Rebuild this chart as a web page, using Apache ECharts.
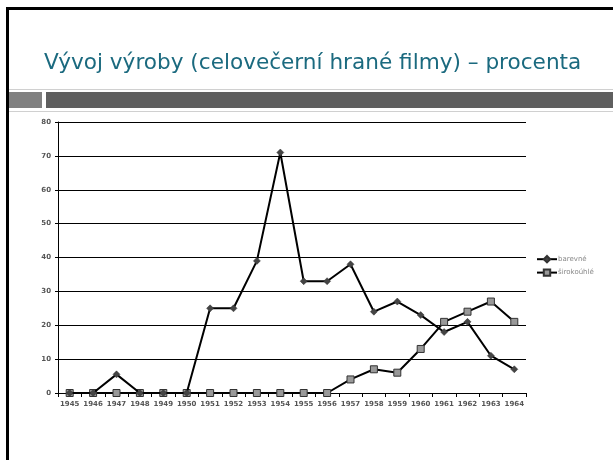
<!DOCTYPE html>
<html><head><meta charset="utf-8">
<script src="https://cdn.jsdelivr.net/npm/echarts@6/dist/echarts.min.js"></script>
<style>html,body{margin:0;padding:0;background:#fff}#c{width:613px;height:460px}</style>
</head><body><div id="c"></div>
<script>
var years = ['1945','1946','1947','1948','1949','1950','1951','1952','1953','1954','1955','1956','1957','1958','1959','1960','1961','1962','1963','1964'];
var barevne = [0,0,5.5,0,0,0,25,25,39,71,33,33,38,24,27,23,18,21,11,7];
var sirokouhle = [0,0,0,0,0,0,0,0,0,0,0,0,4,7,6,13,21,24,27,21];
var yTicks = [0,10,20,30,40,50,60,70,80];

var chart = echarts.init(document.getElementById('c'), null, {renderer:'canvas'});
chart.setOption({
  animation:false,
  backgroundColor:'#fff',
  title:{text:'Vývoj výroby (celovečerní hrané filmy) – procenta', left:39, top:47,
    textStyle:{color:'#1b6a7f', fontSize:21.6, fontWeight:'normal', fontFamily:'DejaVu Sans'}},
  graphic:[
    {type:'rect', shape:{x:6,y:7,width:607,height:3}, style:{fill:'#000'}},
    {type:'rect', shape:{x:6,y:7,width:3,height:453}, style:{fill:'#000'}},
    {type:'rect', shape:{x:9,y:89,width:604,height:1}, style:{fill:'#d0d0d0'}},
    {type:'rect', shape:{x:9,y:111,width:604,height:1}, style:{fill:'#d0d0d0'}},
    {type:'rect', shape:{x:9,y:92,width:33,height:16}, style:{fill:'#808080'}},
    {type:'rect', shape:{x:46,y:92,width:567,height:16}, style:{fill:'#5f5f5f'}}
  ],
  legend:{orient:'vertical', left:531, top:250, itemGap:5, itemWidth:20, itemHeight:8,
    textStyle:{fontSize:7, color:'#888', fontFamily:'DejaVu Sans', padding:[0,0,0,-4]},
    data:['barevné','širokoúhlé']},
  grid:{left:58, top:122, width:468, height:271},
  xAxis:{type:'category', data:years, boundaryGap:true,
    axisLine:{lineStyle:{color:'#000', width:1}},
    axisTick:{show:true, length:4, lineStyle:{color:'#000'}},
    axisLabel:{fontSize:7, fontWeight:'bold', color:'#555', margin:8, fontFamily:'DejaVu Sans', interval:0}},
  yAxis:{type:'value', min:yTicks[0], max:yTicks[yTicks.length-1], interval:10,
    axisLine:{show:true, lineStyle:{color:'#000', width:1}},
    axisTick:{show:true, length:3, lineStyle:{color:'#000'}},
    splitLine:{lineStyle:{color:'#000', width:1}},
    axisLabel:{fontSize:7, fontWeight:'bold', color:'#555', margin:7, fontFamily:'DejaVu Sans'}},
  series:[
    {name:'barevné', type:'line', data:barevne, symbol:'diamond', symbolSize:7,
      lineStyle:{color:'#000', width:2}, itemStyle:{color:'#444', borderColor:'#333', borderWidth:0.5}, z:3},
    {name:'širokoúhlé', type:'line', data:sirokouhle, symbol:'rect', symbolSize:7,
      lineStyle:{color:'#000', width:2}, itemStyle:{color:'#999', borderColor:'#333', borderWidth:1}, z:2}
  ]
});
</script></body></html>
